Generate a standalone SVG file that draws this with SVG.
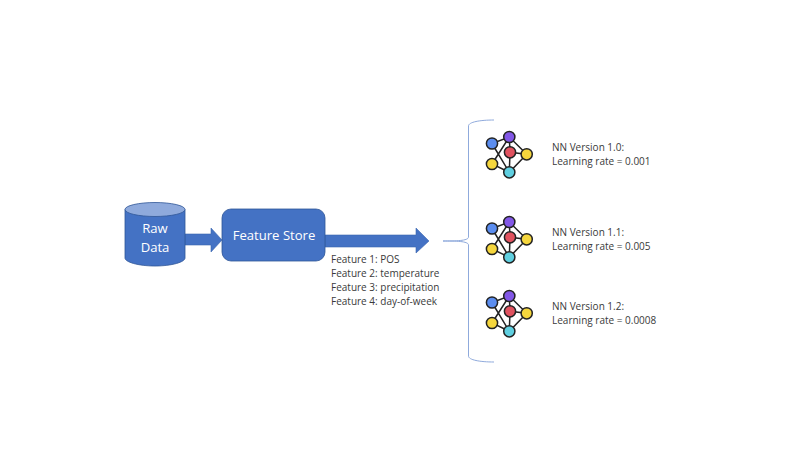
<svg xmlns="http://www.w3.org/2000/svg" width="800" height="450" viewBox="0 0 800 450">
<style>
text{font-family:"Open Sans","Noto Sans",sans-serif;font-size:10px;fill:#3a3a3a}
.w{font-size:13.1px;fill:#fff;text-anchor:middle}
.b{fill:#4472c4;stroke:#2f5597;stroke-width:.8}
.a{fill:#4472c4;stroke:#3a66b0;stroke-width:.6}
.e{stroke:#222;stroke-width:1.5;fill:none}
.n{stroke:#222;stroke-width:1.5}
</style>
<defs>
<g id="nn">
<path class="e" d="M492 143.5L509.3 137L526.700 154.300L509.300 172.300L492 164L509.300 137L510 152.300L526.700 154.300M492 143.500L509.300 172.300L510 152.300"/>
<circle class="n" cx="492" cy="143.500" r="5.600" fill="#5b8def"/>
<circle class="n" cx="509.300" cy="137" r="5.600" fill="#8257e6"/>
<circle class="n" cx="510" cy="152.300" r="5.600" fill="#e0525f"/>
<circle class="n" cx="526.700" cy="154.300" r="5.600" fill="#f5d63d"/>
<circle class="n" cx="492" cy="164" r="5.600" fill="#f5d63d"/>
<circle class="n" cx="509.300" cy="172.300" r="5.600" fill="#5fcfe0"/>
</g>
</defs>
<rect width="800" height="450" fill="#fff"/>
<g id="connectors">
<path class="a" d="M185 234H211V228L222 240L211 252V245H185Z"/>
<path class="a" d="M325 235H416V228L429 241L416 253V247H325Z"/>
<path d="M443 241C455 241 468.500 241 468.500 237V126C468.500 122 480 120 494 120M468.500 245V356C468.500 360 480 362 494 362M468.500 245C468.500 241 455 241 443 241" fill="none" stroke="#8faadc" stroke-width="1"/>
</g>
<g id="raw-data">
<path class="b" d="M125 209.500V258C125 262 138 266 155 266C172 266 185 262 185 258V209.500Z"/>
<ellipse cx="155" cy="209.500" rx="30" ry="7" fill="#8faadc" stroke="#2f5597" stroke-width=".8"/>
<text class="w" x="155" y="233">Raw</text>
<text class="w" x="155" y="252">Data</text>
</g>
<g id="feature-store">
<rect class="b" x="222" y="209" width="103" height="52" rx="9"/>
<text class="w" x="274" y="240">Feature Store</text>
</g>
<g id="features">
<text x="331" y="262.500">Feature 1: POS</text>
<text x="331" y="276.500">Feature 2: temperature</text>
<text x="331" y="290.500">Feature 3: precipitation</text>
<text x="331" y="304.500">Feature 4: day-of-week</text>
</g>
<g id="nn-1-0">
<use href="#nn"/>
<text x="552" y="151">NN Version 1.0:</text>
<text x="552" y="165">Learning rate = 0.001</text>
</g>
<g id="nn-1-1">
<use href="#nn" y="85"/>
<text x="552" y="236">NN Version 1.1:</text>
<text x="552" y="250">Learning rate = 0.005</text>
</g>
<g id="nn-1-2">
<use href="#nn" y="159"/>
<text x="552" y="310">NN Version 1.2:</text>
<text x="552" y="324">Learning rate = 0.0008</text>
</g>
</svg>
